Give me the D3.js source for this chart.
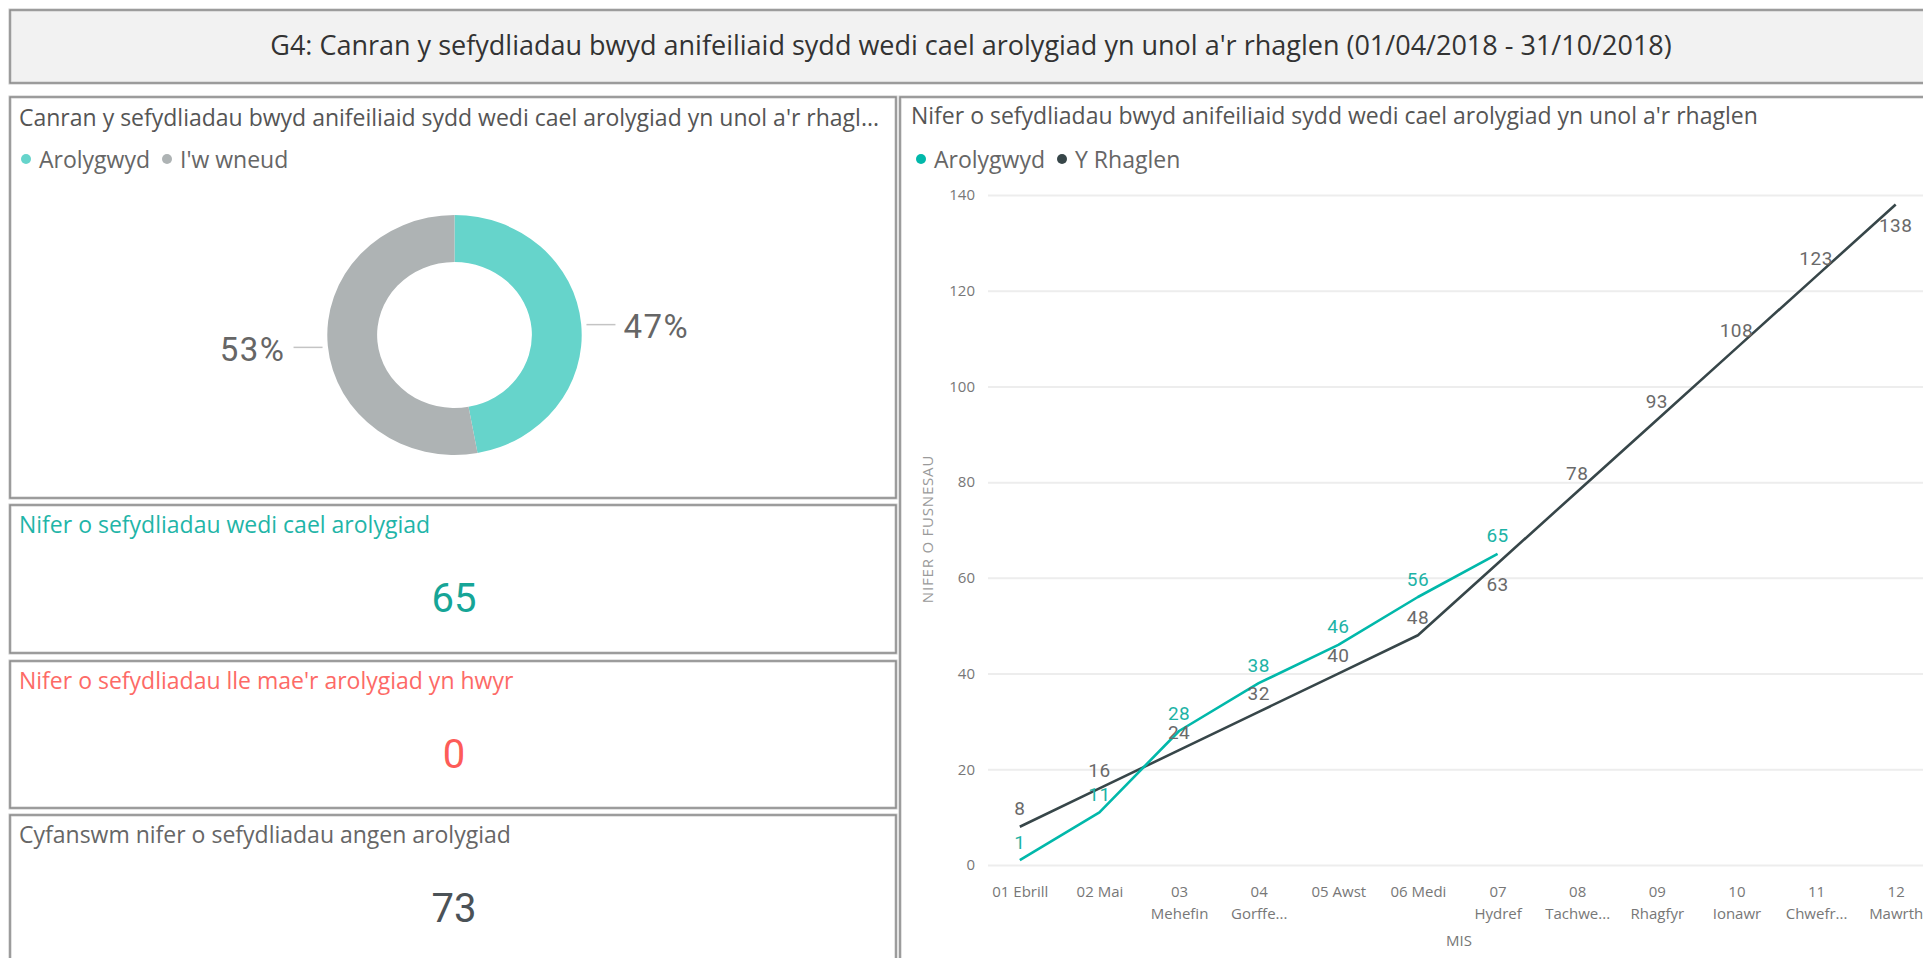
<!DOCTYPE html>
<html>
<head>
<meta charset="utf-8">
<script src="https://cdnjs.cloudflare.com/ajax/libs/d3/7.8.5/d3.min.js"></script>
<style>
body { margin: 0; background: #fff; overflow: hidden; }
svg text { font-family: "Segoe UI", "Open Sans", sans-serif; }
svg text.num { font-family: "Roboto", sans-serif; }
</style>
</head>
<body>
<svg id="dash"></svg>
<script>
var width = 1923; // page width
var height = 958; // page height

// ---- data ----
var mainTitle = "G4: Canran y sefydliadau bwyd anifeiliaid sydd wedi cael arolygiad yn unol a'r rhaglen (01/04/2018 - 31/10/2018)";

var donutTitle = "Canran y sefydliadau bwyd anifeiliaid sydd wedi cael arolygiad yn unol a'r rhagl...";
var pieNames = ["Arolygwyd", "I'w wneud"];
var pieValues = [65, 73];
var pieColors = ["#66d4cb", "#aeb3b4"];

var cardTitles = ["Nifer o sefydliadau wedi cael arolygiad",
	"Nifer o sefydliadau lle mae'r arolygiad yn hwyr",
	"Cyfanswm nifer o sefydliadau angen arolygiad"];
var cardValues = [65, 0, 73];
var cardTitleColors = ["#1fb5a8", "#fd6a66", "#666666"];
var cardValueColors = ["#16a597", "#fd5c58", "#4b5257"];

var lineTitle = "Nifer o sefydliadau bwyd anifeiliaid sydd wedi cael arolygiad yn unol a'r rhaglen";
var seriesNames = ["Arolygwyd", "Y Rhaglen"];
var seriesColors = ["#01b8aa", "#374649"];
var labelColors = ["#1db3a6", "#6a6a6a"];
var months = ["01", "02", "03", "04", "05", "06", "07", "08", "09", "10", "11", "12"];
var monthLabels = [["01 Ebrill"], ["02 Mai"], ["03", "Mehefin"], ["04", "Gorffe..."], ["05 Awst"], ["06 Medi"],
	["07", "Hydref"], ["08", "Tachwe..."], ["09", "Rhagfyr"], ["10", "Ionawr"], ["11", "Chwefr..."], ["12", "Mawrth"]];
var arolygwyd = [1, 11, 28, 38, 46, 56, 65];
var rhaglen = [8, 16, 24, 32, 40, 48, 63, 78, 93, 108, 123, 138];
var yTicks = [0, 20, 40, 60, 80, 100, 120, 140];

var svg = d3.select("#dash")
	.attr("width", width)
	.attr("height", height)
	.style("display", "block");

// panel frames
function panel(x, y, w, h, fill) {
	svg.append("rect")
		.attr("x", x).attr("y", y).attr("width", w).attr("height", h)
		.attr("fill", fill || "#fff")
		.attr("stroke", "#c8c8c8").attr("stroke-width", 3);
	svg.append("rect")
		.attr("x", x).attr("y", y).attr("width", w).attr("height", h)
		.attr("fill", "none")
		.attr("stroke", "#858585").attr("stroke-width", 1.3);
}

panel(10, 10, 1940, 73, "#f2f2f2");
panel(10, 97, 886, 401);
panel(10, 505, 886, 148);
panel(10, 661, 886, 147);
panel(10, 815, 886, 170);
panel(900, 97, 1050, 890);

svg.append("text")
	.attr("x", 971).attr("y", 44)
	.attr("text-anchor", "middle")
	.attr("dominant-baseline", "central")
	.style("font-size", "27px")
	.style("fill", "#333")
	.text(mainTitle);

// ---- donut ----
svg.append("text")
	.attr("x", 19).attr("y", 117)
	.attr("dominant-baseline", "central")
	.style("font-size", "23px")
	.style("fill", "#555")
	.text(donutTitle);

function legend(x, y, names, colors) {
	var cx = x;
	names.forEach(function (n, i) {
		svg.append("circle").attr("cx", cx).attr("cy", y).attr("r", 5).attr("fill", colors[i]);
		var t = svg.append("text")
			.attr("x", cx + 13).attr("y", y)
			.attr("dominant-baseline", "central")
			.style("font-size", "23px")
			.style("fill", "#666")
			.text(n);
		cx = cx + 13 + t.node().getComputedTextLength() + 17;
	});
}
legend(26, 159, pieNames, pieColors);

var pie = d3.pie().sort(null).value(function (d) { return d; });
var arcs = pie(pieValues);
var arc = d3.arc().innerRadius(73).outerRadius(120);
var donut = svg.append("g").attr("transform", "translate(454.5,335) scale(1.06,1)");
donut.selectAll("path")
	.data(arcs)
	.enter()
	.append("path")
	.attr("d", arc)
	.attr("fill", function (d, i) { return pieColors[i]; });

var total = d3.sum(pieValues);
var pct = d3.format(".0%");
var labelArc = d3.arc().innerRadius(125).outerRadius(125);
arcs.forEach(function (d, i) {
	var c = labelArc.centroid(d);
	var px = 454.5 + c[0] * 1.06;
	var py = 335 + c[1] + 1;
	var dir = c[0] > 0 ? 1 : -1;
	svg.append("line")
		.attr("x1", px).attr("y1", py)
		.attr("x2", px + dir * 29).attr("y2", py)
		.attr("stroke", "#c4c4c4").attr("stroke-width", 1.5);
	svg.append("text")
		.attr("class", "num")
		.attr("x", px + dir * 37).attr("y", py + 2)
		.attr("text-anchor", dir > 0 ? "start" : "end")
		.attr("dominant-baseline", "central")
		.style("font-size", "33px")
		.style("letter-spacing", "1.5px")
		.style("fill", "#666")
		.text(pct(d.value / total));
});

// ---- cards ----
var cardTops = [505, 661, 815];
cardTitles.forEach(function (t, i) {
	svg.append("text")
		.attr("x", 19).attr("y", cardTops[i] + 19)
		.attr("dominant-baseline", "central")
		.style("font-size", "23px")
		.style("fill", cardTitleColors[i])
		.text(t);
	svg.append("text")
		.attr("class", "num")
		.attr("x", 454).attr("y", cardTops[i] + 93)
		.attr("text-anchor", "middle")
		.attr("dominant-baseline", "central")
		.style("font-size", "40px")
		.style("fill", cardValueColors[i])
		.text(cardValues[i]);
});

// ---- line chart ----
svg.append("text")
	.attr("x", 911).attr("y", 115)
	.attr("dominant-baseline", "central")
	.style("font-size", "23px")
	.style("fill", "#555")
	.text(lineTitle);
legend(921, 159, seriesNames, seriesColors);

var xScale = d3.scalePoint()
	.domain(months)
	.range([980, 1935.5])
	.padding(0.5);

var yScale = d3.scaleLinear()
	.domain([0, 140])
	.range([865, 195]);

var yAxisG = svg.append("g")
	.attr("transform", "translate(988,0)")
	.call(d3.axisLeft(yScale).tickValues(yTicks).tickSize(-960).tickPadding(13));
yAxisG.select(".domain").remove();
yAxisG.selectAll("line").attr("stroke", "#ededed").attr("stroke-width", 2);
yAxisG.selectAll("text")
	.style("font-size", "15px")
	.style("fill", "#777")
	.style("font-family", "\"Segoe UI\", \"Open Sans\", sans-serif");

var xAxisG = svg.append("g")
	.attr("transform", "translate(0,865)")
	.call(d3.axisBottom(xScale).tickSize(0).tickPadding(21));
xAxisG.select(".domain").remove();
xAxisG.selectAll("text")
	.style("font-size", "15px")
	.style("fill", "#777")
	.style("font-family", "\"Segoe UI\", \"Open Sans\", sans-serif")
	.each(function (d, i) {
		var t = d3.select(this).text("");
		monthLabels[i].forEach(function (line, j) {
			t.append("tspan").attr("x", 0).attr("dy", j == 0 ? "0.71em" : "1.5em").text(line);
		});
	});

svg.append("text")
	.attr("transform", "translate(927,529) rotate(-90)")
	.attr("text-anchor", "middle")
	.attr("dominant-baseline", "central")
	.style("font-size", "15px")
	.style("letter-spacing", "0.8px")
	.style("fill", "#9a9a9a")
	.text("NIFER O FUSNESAU");

svg.append("text")
	.attr("x", 1459).attr("y", 940)
	.attr("text-anchor", "middle")
	.attr("dominant-baseline", "central")
	.style("font-size", "15px")
	.style("fill", "#777")
	.text("MIS");

var line = d3.line()
	.x(function (d, i) { return xScale(months[i]); })
	.y(function (d) { return yScale(d); });

var series = [arolygwyd, rhaglen];
// draw dark line first, teal on top
[1, 0].forEach(function (s) {
	svg.append("path")
		.datum(series[s])
		.attr("d", line)
		.attr("fill", "none")
		.attr("stroke", seriesColors[s])
		.attr("stroke-width", 2.6)
		.attr("stroke-linejoin", "round");
});

[1, 0].forEach(function (s) {
	series[s].forEach(function (v, i) {
		// the 07 and 12 programme labels sit under the line
		var below = (s == 1 && (i == 6 || i == 11));
		svg.append("text")
			.attr("class", "num")
			.attr("x", xScale(months[i]))
			.attr("y", yScale(v) + (below ? 21 : -18))
			.attr("text-anchor", "middle")
			.attr("dominant-baseline", "central")
			.style("font-size", "19px")
			.style("letter-spacing", "0.5px")
			.style("fill", labelColors[s])
			.text(v);
	});
});
</script>
</body>
</html>
